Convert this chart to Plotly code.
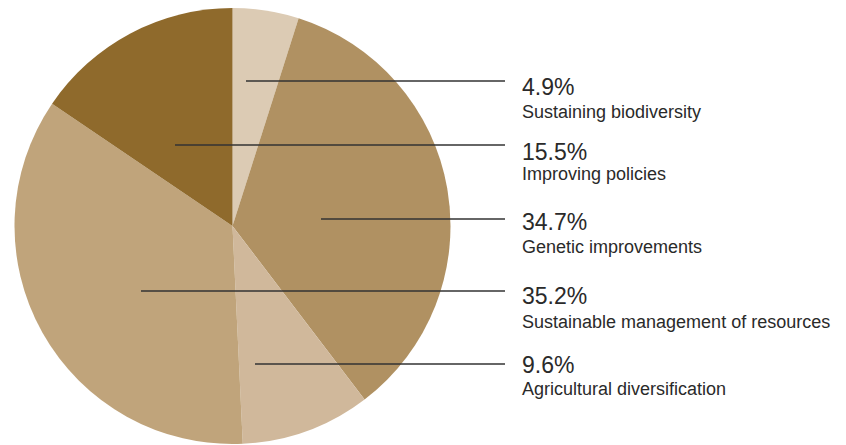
import plotly.graph_objects as go

# ---- data ----
categories = ["Sustaining biodiversity", "Genetic improvements", "Agricultural diversification",
              "Sustainable management of resources", "Improving policies"]
shares = [4.9, 34.7, 9.6, 35.2, 15.5]
share_labels = ["4.9%", "34.7%", "9.6%", "35.2%", "15.5%"]
colors = ["#dccbb4", "#b09162", "#d0b89b", "#c0a47b", "#8f6a2c"]

# ---- layout (page-pixel positions of callouts) ----
OFF = 8                      # default page body margin
W, H = 846 - OFF, 445 - OFF  # figure size
line_y = [81, 219, 364, 291, 145]
line_x0 = [246, 321, 255, 141, 175]
line_x1 = 505
text_x = 519.5
pct_cy = [86.8, 222, 364.5, 296, 151.7]
lab_cy = [112, 247, 389, 321.5, 173.5]
pie_cx, pie_cy, pie_r = 232.5, 226, 218


def px(x):
    return (x - OFF) / W


def py(y):
    return 1 - (y - OFF) / H


fig = go.Figure()
fig.add_trace(go.Pie(
    labels=categories, values=shares, sort=False, direction="clockwise", rotation=0,
    marker=dict(colors=colors, line=dict(width=0)), textinfo="none", hoverinfo="label+percent",
    domain=dict(x=[px(pie_cx - pie_r), px(pie_cx + pie_r)],
                y=[max(0, py(pie_cy + pie_r)), min(1, py(pie_cy - pie_r))]),
    showlegend=False,
))

font = "Liberation Sans, Arial, Helvetica, sans-serif"
for i in range(len(categories)):
    fig.add_shape(type="line", xref="paper", yref="paper",
                  x0=px(line_x0[i]), x1=px(line_x1), y0=py(line_y[i]), y1=py(line_y[i]),
                  line=dict(color="#333333", width=1.3))
    fig.add_annotation(x=px(text_x), y=py(pct_cy[i]), xref="paper", yref="paper",
                       text=share_labels[i], showarrow=False, xanchor="left", yanchor="middle",
                       font=dict(family=font, size=23, color="#2a2a2a"))
    fig.add_annotation(x=px(text_x), y=py(lab_cy[i]), xref="paper", yref="paper",
                       text=categories[i], showarrow=False, xanchor="left", yanchor="middle",
                       font=dict(family=font, size=18, color="#2a2a2a"))

fig.update_layout(width=W, height=H, margin=dict(l=0, r=0, t=0, b=0),
                  paper_bgcolor="white", plot_bgcolor="white")
fig.write_html("out.html")
